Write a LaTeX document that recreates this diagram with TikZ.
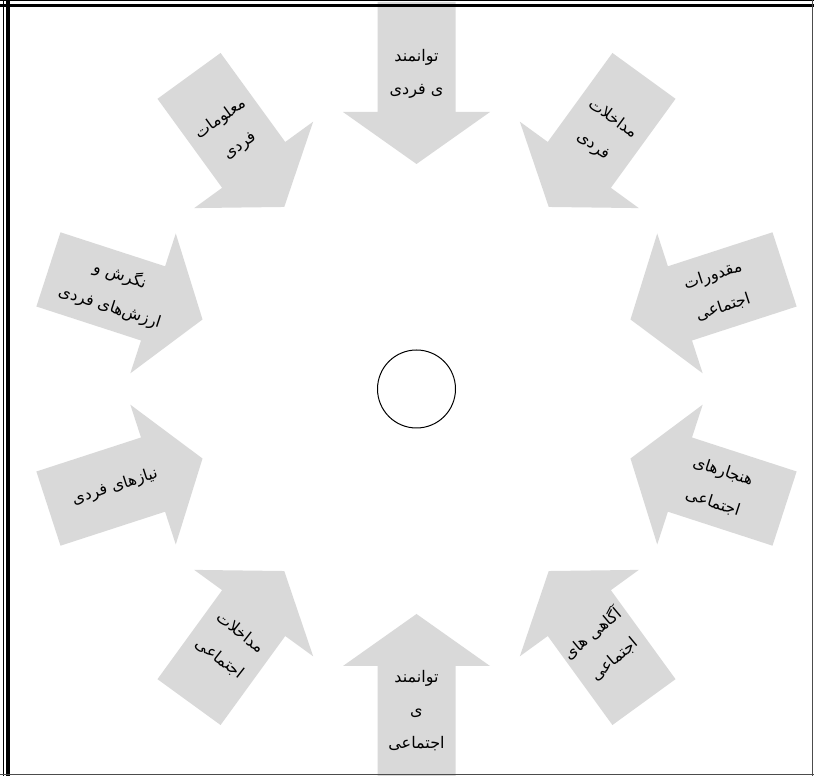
\documentclass[tikz,border=0pt]{standalone}
\usepackage{fontspec}
\newfontfamily\fa[Script=Arabic]{DejaVu Sans}
\TeXXeTstate=1
\definecolor{arrowgray}{RGB}{217,217,217}
\newcommand{\RL}[1]{\beginR #1\endR}
\tikzset{
  inarrow/.pic={\fill[arrowgray] (225,0) -- (277,73.5) -- (277,39) -- (387,39) -- (387,-39) -- (277,-39) -- (277,-73.5) -- cycle;},
  lbl/.style={align=center, font=\fa\fontsize{16}{33}\selectfont, text=black, inner sep=0pt}
}
\begin{document}
\begin{tikzpicture}[x=1pt,y=1pt]
\clip (0,0) rectangle (814,776);
\useasboundingbox (0,0) rectangle (814,776);
\fill[white] (0,0) rectangle (814,776);
\coordinate (c) at (416.5,387);
% arrows
\foreach \a in {90,126,54,18,-18,-54,-90,-126,198,162}
  \pic[rotate=\a] at (c) {inarrow};
% labels
\node[lbl, rotate=0]   (t1)  at ([shift={(90:315)}]c)   {\RL{توانمند}\\\RL{ی فردی}};
\node[lbl, rotate=36]  (t2)  at ([shift={(126:317)}]c)  {\RL{معلومات}\\\RL{فردی}};
\node[lbl, rotate=-36] (t3)  at ([shift={(54:317)}]c)   {\RL{مداخلات}\\\RL{فردی}};
\node[lbl, rotate=18]  (t4)  at ([shift={(18:317)}]c)   {\RL{مقدورات}\\\RL{اجتماعی}};
\node[lbl, rotate=-18] (t5)  at ([shift={(-18:317)}]c)  {\RL{هنجارهای}\\\RL{اجتماعی}};
\node[lbl, rotate=40]  (t6)  at ([shift={(-54:317)}]c)  {\RL{آگاهی های}\\\RL{اجتماعی}};
\node[lbl, rotate=0]   (t7)  at ([shift={(-90:322)}]c)  {\RL{توانمند}\\\RL{ی}\\\RL{اجتماعی}};
\node[lbl, rotate=-38] (t8)  at ([shift={(-126:317)}]c) {\RL{مداخلات}\\\RL{اجتماعی}};
\node[lbl, rotate=18]  (t9)  at ([shift={(198:317)}]c)  {\RL{نیازهای فردی}};
\node[lbl, rotate=-18] (t10) at ([shift={(162:317)}]c)  {\RL{نگرش و}\\\RL{ارزش‌های فردی}};
% centre circle
\node[circle, draw=black, line width=1pt, minimum size=78pt, inner sep=0pt] (hub) at (c) {};
% frame
\draw[line width=1pt] (3.5,0) -- (3.5,776);
\draw[line width=4pt] (7.5,0) -- (7.5,776);
\draw[line width=1pt] (0,775) -- (814,775);
\draw[line width=3.5pt] (0,770.5) -- (814,770.5);
\draw[line width=1.5pt, black!70] (812.5,0) -- (812.5,776);
\draw[line width=1.5pt, black!70] (0,1.5) -- (814,1.5);
\end{tikzpicture}
\end{document}
